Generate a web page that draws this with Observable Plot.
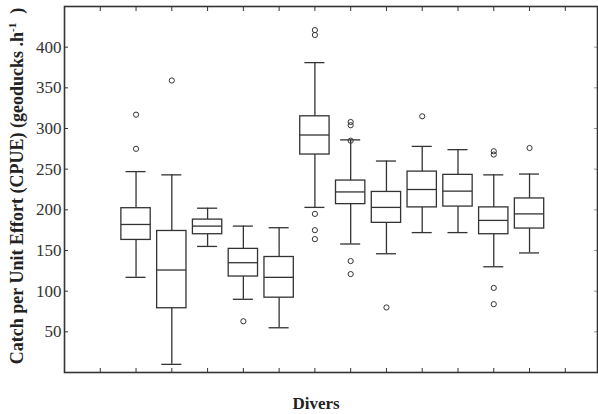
<!DOCTYPE html>
<html><head><meta charset="utf-8">
<script src="https://cdn.jsdelivr.net/npm/d3@7"></script>
<script src="https://cdn.jsdelivr.net/npm/@observablehq/plot@0.6"></script>
<style>body{margin:0;background:#fff}</style>
</head><body><div id="chart"></div>
<script>
// Diver categories (no labels shown on the axis)
const diverIds    = [1, 2, 3, 4, 5, 6, 7, 8, 9, 10, 11, 12];
const whiskerLow  = [117, 10, 155, 90, 55, 203, 158, 146, 172, 172, 130, 147];
const quartile1   = [163, 79, 170, 118, 92, 268, 207, 184, 203, 204, 170, 177];
const medianVal   = [182, 126, 180, 135, 117, 292, 222, 203, 225, 223, 187, 195];
const quartile3   = [202, 174, 188, 152, 142, 315, 236, 222, 247, 243, 203, 214];
const whiskerHigh = [247, 243, 202, 180, 178, 381, 286, 260, 278, 274, 243, 244];
// Outliers
const outlierDiver = [1, 1, 2, 4, 6, 6, 6, 6, 6, 7, 7, 7, 7, 7, 8, 9, 11, 11, 11, 11, 12];
const outlierValue = [317, 275, 359, 63, 421, 415, 195, 175, 164, 308, 304, 285, 137, 121, 80, 315, 272, 268, 104, 84, 276];
// Tick values
const yTicks = [50, 100, 150, 200, 250, 300, 350, 400];
const xTickSlots = [1, 2, 3, 4, 5, 6, 7, 8, 9, 10, 11, 12, 13, 14];

const slot = id => id + 1;
const boxes = diverIds.map((id, i) => ({
  x: slot(id), lo: whiskerLow[i], q1: quartile1[i], med: medianVal[i], q3: quartile3[i], hi: whiskerHigh[i]
}));
const outs = outlierDiver.map((id, i) => ({x: slot(id), v: outlierValue[i]}));
const BOX = 0.41, CAP = 0.28;
const ink = "#333";
const sw = 1.3;
const serif = "'Liberation Serif', 'Times New Roman', serif";

const plot = Plot.plot({
  width: 598, height: 414,
  marginLeft: 64, marginRight: 1, marginTop: 6, marginBottom: 42,
  x: {domain: [0, 14.9], axis: null, label: null},
  y: {domain: [0, 450], axis: null, label: null},
  style: {fontFamily: serif, background: "#fff"},
  marks: [
    Plot.ruleX(boxes, {x: "x", y1: "lo", y2: "q1", stroke: ink, strokeWidth: sw}),
    Plot.ruleX(boxes, {x: "x", y1: "q3", y2: "hi", stroke: ink, strokeWidth: sw}),
    Plot.ruleY(boxes, {y: "lo", x1: d => d.x - CAP, x2: d => d.x + CAP, stroke: ink, strokeWidth: sw}),
    Plot.ruleY(boxes, {y: "hi", x1: d => d.x - CAP, x2: d => d.x + CAP, stroke: ink, strokeWidth: sw}),
    Plot.rect(boxes, {x1: d => d.x - BOX, x2: d => d.x + BOX, y1: "q1", y2: "q3", fill: "white", stroke: ink, strokeWidth: sw}),
    Plot.ruleY(boxes, {y: "med", x1: d => d.x - BOX, x2: d => d.x + BOX, stroke: ink, strokeWidth: sw}),
    Plot.dot(outs, {x: "x", y: "v", r: 2.6, stroke: ink, strokeWidth: 1, fill: "none"}),
    Plot.axisY(yTicks, {anchor: "left", tickSize: 0, tickPadding: 3, fontSize: 17, fontFamily: serif, fill: ink, label: null}),
    Plot.axisY(yTicks, {anchor: "left", tickSize: -4, tickFormat: () => "", stroke: ink, label: null}),
    Plot.axisY(yTicks, {anchor: "right", tickSize: -4, tickFormat: () => "", stroke: "#999", label: null}),
    Plot.axisX(xTickSlots, {anchor: "bottom", tickSize: -4, tickFormat: () => "", stroke: ink, label: null}),
    Plot.axisX(xTickSlots, {anchor: "top", tickSize: -4, tickFormat: () => "", stroke: ink, label: null}),
    Plot.frame({stroke: ink, strokeWidth: 1.6})
  ]
});

const svg = d3.select(plot);
const yl = svg.append("text")
  .attr("transform", "translate(23,186) rotate(-90)")
  .attr("text-anchor", "middle")
  .attr("font-family", serif)
  .attr("font-weight", "bold")
  .attr("font-size", 18)
  .attr("fill", "#222");
yl.append("tspan").text("Catch per Unit Effort (CPUE) (geoducks .h");
yl.append("tspan").attr("font-size", 11).attr("dy", -7).text("-1");
yl.append("tspan").attr("dy", 7).text("\u00A0\u00A0)");

svg.append("text")
  .attr("x", 316).attr("y", 409)
  .attr("text-anchor", "middle")
  .attr("font-family", serif)
  .attr("font-weight", "bold")
  .attr("font-size", 17)
  .attr("fill", "#222")
  .text("Divers");

document.getElementById("chart").appendChild(plot);
</script>
</body></html>
